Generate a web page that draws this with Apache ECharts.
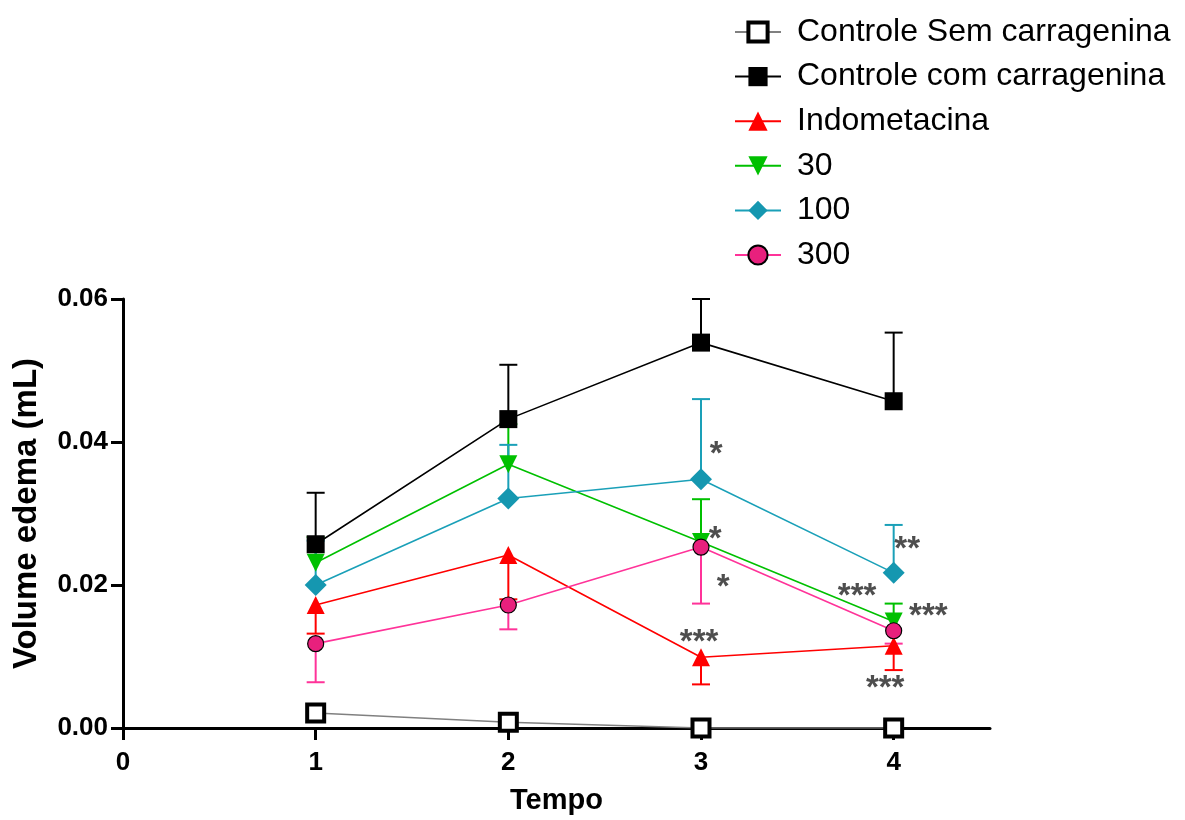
<!DOCTYPE html>
<html><head><meta charset="utf-8">
<script src="https://cdn.jsdelivr.net/npm/echarts@6/dist/echarts.min.js"></script>
<style>html,body{margin:0;padding:0;background:#fff}#c{width:1185px;height:820px}</style>
</head><body><div id="c"></div>
<script>
const times = [1, 2, 3, 4];
const yTicks = [0, 0.02, 0.04, 0.06];
const seriesNames = ['Controle Sem carragenina', 'Controle com carragenina', 'Indometacina', '30', '100', '300'];
const semCarr = [0.0021, 0.0008, 0.0000, 0.0000];
const comCarr = [0.0257, 0.0432, 0.0539, 0.0457];
const comCarrErr = [0.0329, 0.0508, 0.0600, 0.0553];
const indo = [0.0172, 0.0242, 0.0099, 0.0115];
const indoErr = [0.0132, 0.0180, 0.0061, 0.0081];
const d30 = [0.0231, 0.0369, 0.0260, 0.0149];
const d30Err = [0.0267, 0.0425, 0.0320, 0.0174];
const d100 = [0.0200, 0.0321, 0.0348, 0.0217];
const d100Err = [0.0262, 0.0396, 0.0460, 0.0284];
const d300 = [0.0118, 0.0172, 0.0253, 0.0136];
const d300Err = [0.0064, 0.0138, 0.0174, 0.0118];
const starX = [3.079, 3.074, 3.115, 2.99, 4.07, 3.81, 4.18, 3.956];
const starY = [0.0394, 0.0276, 0.0208, 0.0131, 0.0261, 0.0196, 0.0168, 0.0067];
const starText = ['*', '*', '*', '***', '**', '***', '***', '***'];

const FONT = 'Liberation Sans';
const pair = (ys) => times.map((t, i) => [t, ys[i]]);
const errData = (ys, es) => times.map((t, i) => [t, ys[i], es[i]]);

function errSeries(ys, es, color) {
  return {
    type: 'custom', z: 1, silent: true,
    data: errData(ys, es),
    renderItem: function (params, api) {
      const x = api.value(0), y = api.value(1), e = api.value(2);
      const p0 = api.coord([x, y]), p1 = api.coord([x, e]);
      const hw = 9;
      return {
        type: 'group',
        children: [
          { type: 'line', shape: { x1: p0[0], y1: p0[1], x2: p1[0], y2: p1[1] }, style: { stroke: color, lineWidth: 2 } },
          { type: 'line', shape: { x1: p1[0] - hw, y1: p1[1], x2: p1[0] + hw, y2: p1[1] }, style: { stroke: color, lineWidth: 2 } }
        ]
      };
    }
  };
}

function lineSeries(name, ys, color, symbol, size, itemStyle, z, rot) {
  return {
    name: name, type: 'line', data: pair(ys), z: z,
    symbol: symbol, symbolSize: size, symbolRotate: rot || 0, showSymbol: true,
    lineStyle: { color: color, width: 1.6 },
    itemStyle: itemStyle,
    emphasis: { disabled: true },
    animation: false
  };
}

const legendData = seriesNames.map((n, i) => i === 0
  ? { name: n, itemStyle: { color: '#ffffff', borderColor: '#000', borderWidth: 4 } }
  : { name: n });

const chart = echarts.init(document.getElementById('c'), null, { renderer: 'canvas' });
const option = {
  animation: false,
  backgroundColor: '#fff',
  grid: { left: 123, right: 195, top: 299, bottom: 89, containLabel: false },
  legend: {
    orient: 'vertical', left: 729, top: 11,
    itemWidth: 46, itemHeight: 24, itemGap: 12.6,
    textStyle: { fontFamily: FONT, fontSize: 32, lineHeight: 32, color: '#000', padding: [0, 0, 0, 11] },
    data: legendData
  },
  xAxis: {
    type: 'value', min: 0, max: 4.5, interval: 1,
    name: 'Tempo', nameLocation: 'middle', nameGap: 58,
    nameTextStyle: { fontFamily: FONT, fontWeight: 'bold', fontSize: 29, color: '#000' },
    axisLine: { lineStyle: { color: '#000', width: 3 } },
    axisTick: { show: true, length: 12, lineStyle: { color: '#000', width: 3 } },
    axisLabel: { fontFamily: FONT, fontWeight: 'bold', fontSize: 26, color: '#000', margin: 22, showMaxLabel: false },
    splitLine: { show: false }
  },
  yAxis: {
    type: 'value', min: 0, max: 0.06, interval: 0.02,
    name: 'Volume edema (mL)', nameLocation: 'middle', nameGap: 80, nameRotate: 90,
    nameTextStyle: { fontFamily: FONT, fontWeight: 'bold', fontSize: 33, color: '#000' },
    axisLine: { show: true, lineStyle: { color: '#000', width: 3 } },
    axisTick: { show: true, length: 12, lineStyle: { color: '#000', width: 3 } },
    axisLabel: { fontFamily: FONT, fontWeight: 'bold', fontSize: 26, color: '#000', margin: 15,
      formatter: (v) => v.toFixed(2) },
    splitLine: { show: false }
  },
  series: [
    errSeries(comCarr, comCarrErr, '#000000'),
    errSeries(indo, indoErr, '#ff0000'),
    errSeries(d30, d30Err, '#00c000'),
    errSeries(d100, d100Err, '#1aa0b8'),
    errSeries(d300, d300Err, '#ff3399'),
    lineSeries(seriesNames[0], semCarr, '#808080', 'rect', 17, { color: '#ffffff', borderColor: '#000', borderWidth: 4 }, 3),
    lineSeries(seriesNames[1], comCarr, '#000000', 'rect', 18, { color: '#000000', borderColor: '#000', borderWidth: 0 }, 3),
    lineSeries(seriesNames[2], indo, '#ff0000', 'triangle', 18, { color: '#ff0000', borderWidth: 0 }, 4),
    lineSeries(seriesNames[3], d30, '#00c000', 'triangle', 18, { color: '#00c000', borderWidth: 0 }, 4, 180),
    lineSeries(seriesNames[4], d100, '#1aa0b8', 'diamond', 22, { color: '#1597b0', borderWidth: 0 }, 4),
    lineSeries(seriesNames[5], d300, '#ff3399', 'circle', 16, { color: '#e8207d', borderColor: '#000', borderWidth: 1.2 }, 5),
    {
      type: 'scatter', z: 6, silent: true, symbolSize: 0,
      data: starX.map((x, i) => ({ value: [x, starY[i]], label: { formatter: starText[i] } })),
      label: { show: true, position: 'inside', fontFamily: FONT, fontWeight: 'bold', fontSize: 33, color: '#222', offset: [0, 9] }
    }
  ]
};
chart.setOption(option);
</script></body></html>
